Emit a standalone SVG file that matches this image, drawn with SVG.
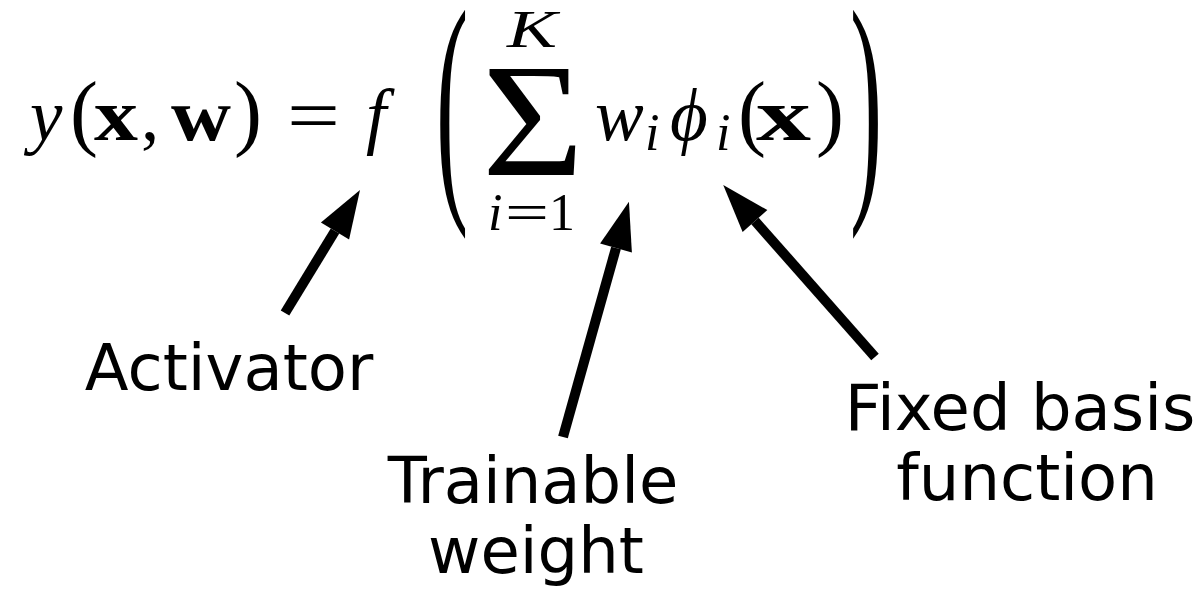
<svg xmlns="http://www.w3.org/2000/svg" width="1200" height="589" viewBox="0 0 1200 589">
<style>
.m{font-family:"Liberation Serif","DejaVu Serif",serif;fill:#000}
.it{font-style:italic}
.bf{font-weight:bold}
.lbl{font-family:"DejaVu Sans","Liberation Sans",sans-serif;font-size:64px;fill:#000;text-anchor:middle}
.arr{stroke:#000;stroke-width:10;fill:none;stroke-linecap:butt}
</style>
<defs>
<marker id="ah" markerUnits="userSpaceOnUse" markerWidth="48" markerHeight="34" refX="0" refY="16.5" orient="auto" overflow="visible">
<path d="M0,0 L48,16.5 L0,33 Z" fill="#000"/>
</marker>
</defs>
<rect width="1200" height="589" fill="#fff"/>
<g id="equation">
<text class="m it" x="30" y="140" font-size="73">y</text>
<text class="m" x="70" y="140" font-size="84">(</text>
<text class="m bf" x="94" y="140" font-size="73" textLength="44" lengthAdjust="spacingAndGlyphs">x</text>
<text class="m" x="141" y="140" font-size="73">,</text>
<text class="m bf" x="171" y="140" font-size="73" textLength="60" lengthAdjust="spacingAndGlyphs">w</text>
<text class="m" x="234" y="140" font-size="84">)</text>
<text class="m" x="287" y="140" font-size="73" textLength="53" lengthAdjust="spacingAndGlyphs">=</text>
<text class="m it" x="366" y="140" font-size="73">f</text>
<text class="m" transform="translate(436,185) scale(1.15,3)" font-size="84">(</text>
<text class="m it" x="507" y="47" font-size="52" textLength="50" lengthAdjust="spacingAndGlyphs">K</text>
<text class="m" x="482" y="175" font-size="160" textLength="102" lengthAdjust="spacingAndGlyphs">Σ</text>
<text class="m it" x="488" y="230" font-size="52">i</text>
<text class="m" x="505" y="230" font-size="52" textLength="44" lengthAdjust="spacingAndGlyphs">=</text>
<text class="m" x="549" y="230" font-size="52">1</text>
<text class="m it" x="595" y="140" font-size="73">w</text>
<text class="m it" x="645" y="150" font-size="52">i</text>
<text class="m it" x="670" y="140" font-size="73">ϕ</text>
<text class="m it" x="716" y="150" font-size="52">i</text>
<text class="m" x="738" y="140" font-size="84">(</text>
<text class="m bf" x="756" y="140" font-size="73" textLength="55" lengthAdjust="spacingAndGlyphs">x</text>
<text class="m" x="816" y="140" font-size="84">)</text>
<text class="m" transform="translate(850,185) scale(1.15,3)" font-size="84">)</text>
</g>
<g id="connectors">
<line class="arr" x1="285" y1="313" x2="335" y2="231" marker-end="url(#ah)"/>
<line class="arr" x1="563" y1="437" x2="616" y2="248" marker-end="url(#ah)"/>
<line class="arr" x1="875" y1="357" x2="755" y2="221" marker-end="url(#ah)"/>
</g>
<g id="activator"><text class="lbl" x="229" y="390">Activator</text></g>
<g id="trainable"><text class="lbl" x="533" y="503">Trainable</text><text class="lbl" x="536" y="573">weight</text></g>
<g id="fixed"><text class="lbl" x="1020" y="430">Fixed basis</text><text class="lbl" x="1027" y="500">function</text></g>
</svg>
